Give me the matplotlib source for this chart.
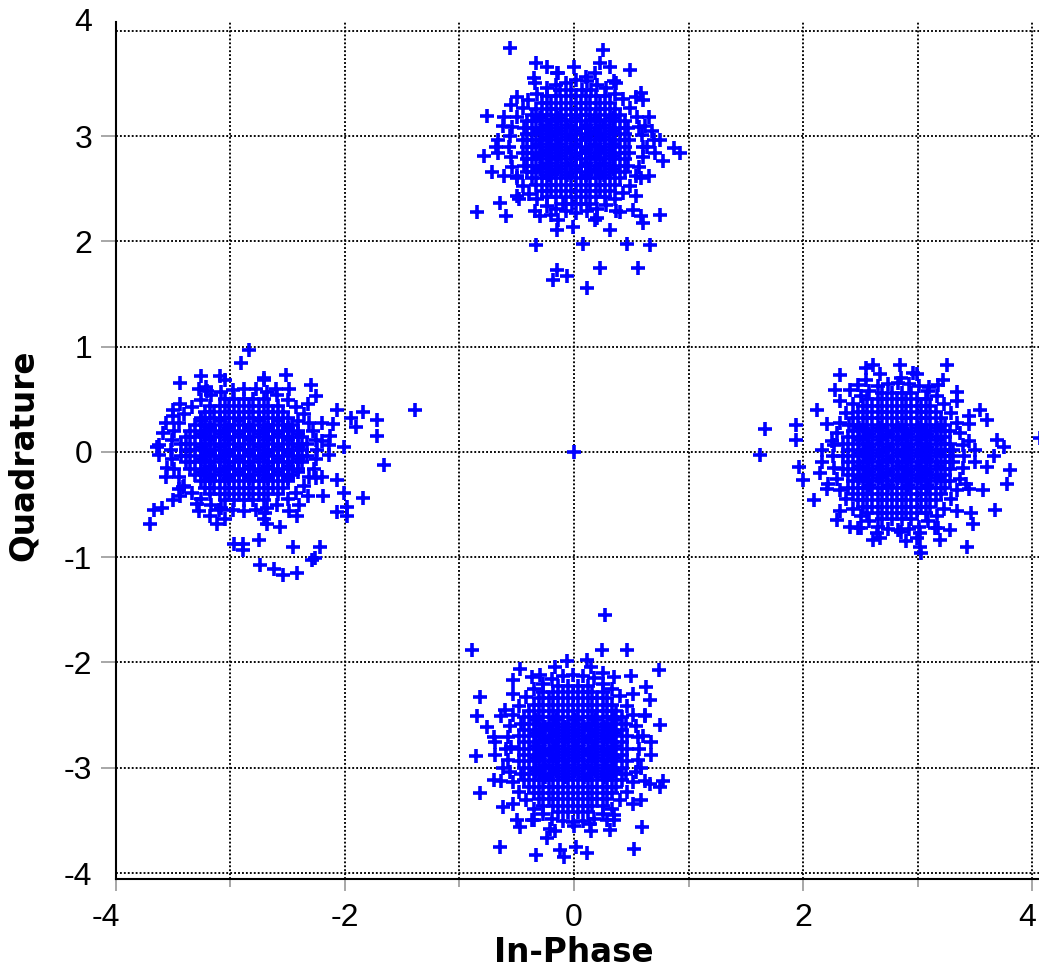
import numpy as np
import matplotlib.pyplot as plt
from matplotlib.ticker import FixedLocator
from matplotlib.transforms import ScaledTranslation

# received symbols (in-phase, quadrature)
top_core = [
    (-0.12, 3.44), (-0.03, 3.44), (0.07, 3.44), (0.15, 3.44),
    (-0.24, 3.38), (-0.16, 3.38), (-0.07, 3.38), (0.02, 3.38), (0.10, 3.38), (0.19, 3.38), (0.27, 3.38),
    (-0.28, 3.32), (-0.20, 3.32), (-0.11, 3.32), (-0.03, 3.32), (0.06, 3.32), (0.14, 3.32), (0.23, 3.32), (0.31, 3.32),
    (-0.33, 3.26), (-0.24, 3.26), (-0.16, 3.26), (-0.07, 3.26), (0.02, 3.26), (0.10, 3.26), (0.19, 3.26), (0.27, 3.26), (0.36, 3.26),
    (-0.37, 3.20), (-0.28, 3.20), (-0.20, 3.20), (-0.11, 3.20), (-0.03, 3.20), (0.06, 3.20), (0.14, 3.20), (0.23, 3.20), (0.31, 3.20), (0.40, 3.20),
    (-0.41, 3.14), (-0.33, 3.14), (-0.24, 3.14), (-0.16, 3.14), (-0.07, 3.14), (0.02, 3.14), (0.10, 3.14), (0.19, 3.14), (0.27, 3.14), (0.36, 3.14), (0.44, 3.14),
    (-0.44, 3.08), (-0.37, 3.08), (-0.28, 3.08), (-0.20, 3.08), (-0.11, 3.08), (-0.03, 3.08), (0.06, 3.08), (0.14, 3.08), (0.23, 3.08), (0.31, 3.08), (0.40, 3.08), (0.47, 3.08),
    (-0.41, 3.02), (-0.33, 3.02), (-0.24, 3.02), (-0.16, 3.02), (-0.07, 3.02), (0.02, 3.02), (0.10, 3.02), (0.19, 3.02), (0.27, 3.02), (0.36, 3.02), (0.44, 3.02),
    (-0.45, 2.96), (-0.37, 2.96), (-0.28, 2.96), (-0.20, 2.96), (-0.11, 2.96), (-0.03, 2.96), (0.06, 2.96), (0.14, 2.96), (0.23, 2.96), (0.31, 2.96), (0.40, 2.96), (0.48, 2.96),
    (-0.41, 2.90), (-0.33, 2.90), (-0.24, 2.90), (-0.16, 2.90), (-0.07, 2.90), (0.02, 2.90), (0.10, 2.90), (0.19, 2.90), (0.27, 2.90), (0.36, 2.90), (0.44, 2.90),
    (-0.45, 2.84), (-0.37, 2.84), (-0.28, 2.84), (-0.20, 2.84), (-0.11, 2.84), (-0.03, 2.84), (0.06, 2.84), (0.14, 2.84), (0.23, 2.84), (0.31, 2.84), (0.40, 2.84), (0.48, 2.84),
    (-0.41, 2.78), (-0.33, 2.78), (-0.24, 2.78), (-0.16, 2.78), (-0.07, 2.78), (0.02, 2.78), (0.10, 2.78), (0.19, 2.78), (0.27, 2.78), (0.36, 2.78), (0.44, 2.78),
    (-0.44, 2.72), (-0.37, 2.72), (-0.28, 2.72), (-0.20, 2.72), (-0.11, 2.72), (-0.03, 2.72), (0.06, 2.72), (0.14, 2.72), (0.23, 2.72), (0.31, 2.72), (0.40, 2.72), (0.47, 2.72),
    (-0.41, 2.66), (-0.33, 2.66), (-0.24, 2.66), (-0.16, 2.66), (-0.07, 2.66), (0.02, 2.66), (0.10, 2.66), (0.19, 2.66), (0.27, 2.66), (0.36, 2.66), (0.44, 2.66),
    (-0.37, 2.60), (-0.28, 2.60), (-0.20, 2.60), (-0.11, 2.60), (-0.03, 2.60), (0.06, 2.60), (0.14, 2.60), (0.23, 2.60), (0.31, 2.60), (0.40, 2.60),
    (-0.33, 2.54), (-0.24, 2.54), (-0.16, 2.54), (-0.07, 2.54), (0.02, 2.54), (0.10, 2.54), (0.19, 2.54), (0.27, 2.54), (0.36, 2.54),
    (-0.28, 2.48), (-0.20, 2.48), (-0.11, 2.48), (-0.03, 2.48), (0.06, 2.48), (0.14, 2.48), (0.23, 2.48), (0.31, 2.48),
    (-0.24, 2.42), (-0.16, 2.42), (-0.07, 2.42), (0.02, 2.42), (0.10, 2.42), (0.19, 2.42), (0.27, 2.42),
    (-0.10, 2.36), (-0.02, 2.36), (0.06, 2.36), (0.14, 2.36),
]
top_inner = [
    (-0.30, 3.17), (-0.14, 3.17), (0.02, 3.17), (0.18, 3.17), (0.34, 3.17),
    (-0.22, 3.11), (-0.06, 3.11), (0.10, 3.11), (0.26, 3.11),
    (-0.30, 3.05), (-0.14, 3.05), (0.02, 3.05), (0.18, 3.05), (0.34, 3.05),
    (-0.22, 2.99), (-0.06, 2.99), (0.10, 2.99), (0.26, 2.99),
    (-0.30, 2.93), (-0.14, 2.93), (0.02, 2.93), (0.18, 2.93), (0.34, 2.93),
    (-0.22, 2.87), (-0.06, 2.87), (0.10, 2.87), (0.26, 2.87),
    (-0.30, 2.81), (-0.14, 2.81), (0.02, 2.81), (0.18, 2.81), (0.34, 2.81),
    (-0.22, 2.75), (-0.06, 2.75), (0.10, 2.75), (0.26, 2.75),
    (-0.30, 2.69), (-0.14, 2.69), (0.02, 2.69), (0.18, 2.69), (0.34, 2.69),
    (-0.22, 2.63), (-0.06, 2.63), (0.10, 2.63), (0.26, 2.63),
]
top_edge = [
    (0.60, 2.90), (0.59, 3.01), (0.57, 3.09), (0.55, 3.18), (0.49, 3.27), (0.43, 3.35), (0.36, 3.40), (0.28, 3.46), (0.20, 3.49), (0.11, 3.52),
    (0.02, 3.53), (-0.07, 3.51), (-0.16, 3.49), (-0.24, 3.46), (-0.32, 3.40), (-0.40, 3.34), (-0.45, 3.27), (-0.50, 3.18), (-0.54, 3.09), (-0.56, 3.00),
    (-0.57, 2.90), (-0.55, 2.80), (-0.54, 2.71), (-0.50, 2.62), (-0.45, 2.53), (-0.39, 2.45), (-0.32, 2.40), (-0.24, 2.34), (-0.16, 2.31), (-0.07, 2.29),
    (0.02, 2.27), (0.11, 2.29), (0.20, 2.31), (0.28, 2.35), (0.36, 2.40), (0.43, 2.46), (0.49, 2.53), (0.54, 2.62), (0.57, 2.71), (0.60, 2.80),
    (0.70, 2.96), (0.65, 3.18), (0.54, 3.37), (0.37, 3.51), (0.18, 3.60), (-0.14, 3.60), (-0.34, 3.51), (-0.50, 3.37), (-0.61, 3.18), (-0.66, 2.96),
    (-0.66, 2.84), (-0.61, 2.62), (-0.50, 2.43), (-0.34, 2.29), (-0.14, 2.20), (0.18, 2.20), (0.37, 2.29), (0.54, 2.43), (0.65, 2.62), (0.71, 2.84),
]
top_outer = [
    (-0.56, 3.84), (0.25, 3.82), (-0.33, 3.70), (-0.24, 3.66), (0.00, 3.66), (-0.15, 3.60),
    (0.23, 3.70), (0.31, 3.66), (0.49, 3.63), (0.58, 3.41), (0.60, 3.34), (-0.76, 3.19),
    (-0.79, 2.81), (-0.72, 2.66), (0.92, 2.84), (0.87, 2.89), (0.78, 2.76), (0.75, 2.96),
    (0.64, 2.90), (-0.85, 2.28), (-0.65, 2.37), (-0.59, 2.24), (-0.30, 2.24), (-0.15, 2.11),
    (-0.01, 2.14), (0.08, 1.98), (0.31, 2.11), (0.51, 2.30), (0.60, 2.18), (-0.33, 1.97),
    (0.46, 1.98), (0.66, 1.97), (0.58, 2.24), (0.75, 2.25), (-0.15, 1.73), (-0.18, 1.63),
    (-0.06, 1.67), (0.11, 1.56), (0.23, 1.75), (0.56, 1.75), (-0.62, 3.10), (-0.55, 3.30),
    (-0.50, 2.60), (0.62, 3.10), (0.58, 2.60), (-0.35, 3.55), (0.35, 3.52), (0.10, 3.56),
    (-0.20, 2.25), (0.20, 2.22), (0.40, 2.28), (-0.48, 2.40), (0.68, 3.05), (-0.68, 2.90),
]

bottom_core = [
    (-0.14, -2.22), (-0.05, -2.22), (0.03, -2.22), (0.12, -2.22),
    (-0.27, -2.28), (-0.18, -2.28), (-0.10, -2.28), (-0.01, -2.28), (0.08, -2.28), (0.16, -2.28), (0.25, -2.28),
    (-0.31, -2.34), (-0.22, -2.34), (-0.14, -2.34), (-0.05, -2.34), (0.03, -2.34), (0.12, -2.34), (0.20, -2.34), (0.29, -2.34),
    (-0.35, -2.40), (-0.27, -2.40), (-0.18, -2.40), (-0.10, -2.40), (-0.01, -2.40), (0.08, -2.40), (0.16, -2.40), (0.25, -2.40), (0.33, -2.40),
    (-0.39, -2.46), (-0.31, -2.46), (-0.22, -2.46), (-0.14, -2.46), (-0.05, -2.46), (0.03, -2.46), (0.12, -2.46), (0.20, -2.46), (0.29, -2.46), (0.37, -2.46),
    (-0.44, -2.52), (-0.35, -2.52), (-0.27, -2.52), (-0.18, -2.52), (-0.10, -2.52), (-0.01, -2.52), (0.08, -2.52), (0.16, -2.52), (0.25, -2.52), (0.33, -2.52), (0.42, -2.52),
    (-0.46, -2.58), (-0.39, -2.58), (-0.31, -2.58), (-0.22, -2.58), (-0.14, -2.58), (-0.05, -2.58), (0.03, -2.58), (0.12, -2.58), (0.20, -2.58), (0.29, -2.58), (0.37, -2.58), (0.45, -2.58),
    (-0.44, -2.64), (-0.35, -2.64), (-0.27, -2.64), (-0.18, -2.64), (-0.10, -2.64), (-0.01, -2.64), (0.08, -2.64), (0.16, -2.64), (0.25, -2.64), (0.33, -2.64), (0.42, -2.64),
    (-0.48, -2.70), (-0.39, -2.70), (-0.31, -2.70), (-0.22, -2.70), (-0.14, -2.70), (-0.05, -2.70), (0.03, -2.70), (0.12, -2.70), (0.20, -2.70), (0.29, -2.70), (0.37, -2.70), (0.46, -2.70),
    (-0.44, -2.76), (-0.35, -2.76), (-0.27, -2.76), (-0.18, -2.76), (-0.10, -2.76), (-0.01, -2.76), (0.08, -2.76), (0.16, -2.76), (0.25, -2.76), (0.33, -2.76), (0.42, -2.76),
    (-0.48, -2.82), (-0.39, -2.82), (-0.31, -2.82), (-0.22, -2.82), (-0.14, -2.82), (-0.05, -2.82), (0.03, -2.82), (0.12, -2.82), (0.20, -2.82), (0.29, -2.82), (0.37, -2.82), (0.46, -2.82),
    (-0.44, -2.88), (-0.35, -2.88), (-0.27, -2.88), (-0.18, -2.88), (-0.10, -2.88), (-0.01, -2.88), (0.08, -2.88), (0.16, -2.88), (0.25, -2.88), (0.33, -2.88), (0.42, -2.88),
    (-0.48, -2.94), (-0.39, -2.94), (-0.31, -2.94), (-0.22, -2.94), (-0.14, -2.94), (-0.05, -2.94), (0.03, -2.94), (0.12, -2.94), (0.20, -2.94), (0.29, -2.94), (0.37, -2.94), (0.46, -2.94),
    (-0.44, -3.00), (-0.35, -3.00), (-0.27, -3.00), (-0.18, -3.00), (-0.10, -3.00), (-0.01, -3.00), (0.08, -3.00), (0.16, -3.00), (0.25, -3.00), (0.33, -3.00), (0.42, -3.00),
    (-0.46, -3.06), (-0.39, -3.06), (-0.31, -3.06), (-0.22, -3.06), (-0.14, -3.06), (-0.05, -3.06), (0.03, -3.06), (0.12, -3.06), (0.20, -3.06), (0.29, -3.06), (0.37, -3.06), (0.45, -3.06),
    (-0.44, -3.12), (-0.35, -3.12), (-0.27, -3.12), (-0.18, -3.12), (-0.10, -3.12), (-0.01, -3.12), (0.08, -3.12), (0.16, -3.12), (0.25, -3.12), (0.33, -3.12), (0.42, -3.12),
    (-0.39, -3.18), (-0.31, -3.18), (-0.22, -3.18), (-0.14, -3.18), (-0.05, -3.18), (0.03, -3.18), (0.12, -3.18), (0.20, -3.18), (0.29, -3.18), (0.37, -3.18),
    (-0.35, -3.24), (-0.27, -3.24), (-0.18, -3.24), (-0.10, -3.24), (-0.01, -3.24), (0.08, -3.24), (0.16, -3.24), (0.25, -3.24), (0.33, -3.24),
    (-0.31, -3.30), (-0.22, -3.30), (-0.14, -3.30), (-0.05, -3.30), (0.03, -3.30), (0.12, -3.30), (0.20, -3.30), (0.29, -3.30),
    (-0.27, -3.36), (-0.18, -3.36), (-0.10, -3.36), (-0.01, -3.36), (0.08, -3.36), (0.16, -3.36), (0.25, -3.36),
    (-0.14, -3.42), (-0.05, -3.42), (0.03, -3.42), (0.12, -3.42),
]
bottom_inner = [
    (-0.33, -2.55), (-0.16, -2.55), (0.01, -2.55), (0.18, -2.55), (0.35, -2.55),
    (-0.25, -2.61), (-0.08, -2.61), (0.09, -2.61), (0.26, -2.61),
    (-0.33, -2.67), (-0.16, -2.67), (0.01, -2.67), (0.18, -2.67), (0.35, -2.67),
    (-0.25, -2.73), (-0.08, -2.73), (0.09, -2.73), (0.26, -2.73),
    (-0.33, -2.79), (-0.16, -2.79), (0.01, -2.79), (0.18, -2.79), (0.35, -2.79),
    (-0.25, -2.85), (-0.08, -2.85), (0.09, -2.85), (0.26, -2.85),
    (-0.33, -2.91), (-0.16, -2.91), (0.01, -2.91), (0.18, -2.91), (0.35, -2.91),
    (-0.25, -2.97), (-0.08, -2.97), (0.09, -2.97), (0.26, -2.97),
    (-0.33, -3.03), (-0.16, -3.03), (0.01, -3.03), (0.18, -3.03), (0.35, -3.03),
    (-0.25, -3.09), (-0.08, -3.09), (0.09, -3.09), (0.26, -3.09),
]
bottom_edge = [
    (0.57, -2.82), (0.56, -2.71), (0.54, -2.60), (0.51, -2.50), (0.46, -2.41), (0.40, -2.32), (0.33, -2.25), (0.25, -2.20), (0.17, -2.15), (0.08, -2.13),
    (-0.01, -2.12), (-0.10, -2.13), (-0.19, -2.16), (-0.27, -2.20), (-0.35, -2.25), (-0.42, -2.33), (-0.48, -2.41), (-0.53, -2.50), (-0.56, -2.60), (-0.58, -2.71),
    (-0.59, -2.82), (-0.58, -2.93), (-0.56, -3.04), (-0.53, -3.14), (-0.48, -3.23), (-0.42, -3.31), (-0.35, -3.39), (-0.27, -3.44), (-0.19, -3.49), (-0.10, -3.51),
    (-0.01, -3.52), (0.08, -3.51), (0.17, -3.49), (0.25, -3.44), (0.33, -3.39), (0.40, -3.31), (0.46, -3.23), (0.51, -3.14), (0.54, -3.04), (0.56, -2.93),
    (0.67, -2.76), (0.62, -2.51), (0.51, -2.30), (0.35, -2.14), (0.15, -2.04), (-0.17, -2.04), (-0.37, -2.14), (-0.53, -2.30), (-0.64, -2.51), (-0.69, -2.76),
    (-0.69, -2.88), (-0.64, -3.13), (-0.53, -3.34), (-0.37, -3.50), (-0.17, -3.60), (0.15, -3.60), (0.35, -3.50), (0.51, -3.34), (0.62, -3.13), (0.67, -2.88),
]
bottom_outer = [
    (0.27, -1.55), (-0.89, -1.88), (0.24, -1.88), (0.46, -1.88), (0.74, -2.07), (-0.47, -2.06),
    (-0.53, -2.17), (-0.06, -1.99), (0.11, -1.98), (-0.82, -2.33), (-0.85, -2.51), (-0.76, -2.61),
    (-0.70, -2.71), (-0.86, -2.89), (-0.82, -3.24), (-0.70, -3.12), (-0.62, -3.37), (-0.50, -3.50),
    (-0.47, -3.56), (-0.65, -3.75), (-0.33, -3.83), (-0.24, -3.67), (-0.12, -3.78), (-0.09, -3.85),
    (0.02, -3.75), (0.11, -3.81), (0.52, -3.77), (0.59, -3.56), (0.58, -3.31), (0.78, -3.13),
    (0.75, -3.18), (0.66, -3.15), (0.75, -2.59), (0.63, -2.23), (0.50, -2.13), (0.66, -2.36),
    (0.29, -3.50), (0.31, -3.59), (0.14, -3.53), (-0.21, -3.58), (-0.60, -2.45), (-0.62, -3.00),
    (0.60, -2.70), (0.58, -3.00), (-0.30, -2.12), (0.25, -2.10), (-0.35, -3.50), (0.35, -3.45),
    (0.00, -3.55), (-0.55, -2.80), (0.62, -2.50),
]

left_core = [
    (-3.05, 0.50), (-2.97, 0.50), (-2.88, 0.50), (-2.80, 0.50), (-2.71, 0.50),
    (-3.18, 0.44), (-3.09, 0.44), (-3.01, 0.44), (-2.92, 0.44), (-2.84, 0.44), (-2.75, 0.44), (-2.67, 0.44), (-2.58, 0.44),
    (-3.22, 0.38), (-3.14, 0.38), (-3.05, 0.38), (-2.97, 0.38), (-2.88, 0.38), (-2.80, 0.38), (-2.71, 0.38), (-2.63, 0.38), (-2.54, 0.38),
    (-3.26, 0.32), (-3.18, 0.32), (-3.09, 0.32), (-3.01, 0.32), (-2.92, 0.32), (-2.84, 0.32), (-2.75, 0.32), (-2.67, 0.32), (-2.58, 0.32), (-2.50, 0.32),
    (-3.31, 0.26), (-3.22, 0.26), (-3.14, 0.26), (-3.05, 0.26), (-2.97, 0.26), (-2.88, 0.26), (-2.80, 0.26), (-2.71, 0.26), (-2.63, 0.26), (-2.54, 0.26), (-2.46, 0.26),
    (-3.35, 0.20), (-3.26, 0.20), (-3.18, 0.20), (-3.09, 0.20), (-3.01, 0.20), (-2.92, 0.20), (-2.84, 0.20), (-2.75, 0.20), (-2.67, 0.20), (-2.58, 0.20), (-2.50, 0.20), (-2.41, 0.20),
    (-3.39, 0.14), (-3.31, 0.14), (-3.22, 0.14), (-3.14, 0.14), (-3.05, 0.14), (-2.97, 0.14), (-2.88, 0.14), (-2.80, 0.14), (-2.71, 0.14), (-2.63, 0.14), (-2.54, 0.14), (-2.46, 0.14), (-2.37, 0.14),
    (-3.43, 0.08), (-3.35, 0.08), (-3.26, 0.08), (-3.18, 0.08), (-3.09, 0.08), (-3.01, 0.08), (-2.92, 0.08), (-2.84, 0.08), (-2.75, 0.08), (-2.67, 0.08), (-2.58, 0.08), (-2.50, 0.08), (-2.41, 0.08), (-2.33, 0.08),
    (-3.39, 0.02), (-3.31, 0.02), (-3.22, 0.02), (-3.14, 0.02), (-3.05, 0.02), (-2.97, 0.02), (-2.88, 0.02), (-2.80, 0.02), (-2.71, 0.02), (-2.63, 0.02), (-2.54, 0.02), (-2.46, 0.02), (-2.37, 0.02),
    (-3.43, -0.04), (-3.35, -0.04), (-3.26, -0.04), (-3.18, -0.04), (-3.09, -0.04), (-3.01, -0.04), (-2.92, -0.04), (-2.84, -0.04), (-2.75, -0.04), (-2.67, -0.04), (-2.58, -0.04), (-2.50, -0.04), (-2.41, -0.04), (-2.33, -0.04),
    (-3.39, -0.10), (-3.31, -0.10), (-3.22, -0.10), (-3.14, -0.10), (-3.05, -0.10), (-2.97, -0.10), (-2.88, -0.10), (-2.80, -0.10), (-2.71, -0.10), (-2.63, -0.10), (-2.54, -0.10), (-2.46, -0.10), (-2.37, -0.10),
    (-3.35, -0.16), (-3.26, -0.16), (-3.18, -0.16), (-3.09, -0.16), (-3.01, -0.16), (-2.92, -0.16), (-2.84, -0.16), (-2.75, -0.16), (-2.67, -0.16), (-2.58, -0.16), (-2.50, -0.16), (-2.41, -0.16),
    (-3.31, -0.22), (-3.22, -0.22), (-3.14, -0.22), (-3.05, -0.22), (-2.97, -0.22), (-2.88, -0.22), (-2.80, -0.22), (-2.71, -0.22), (-2.63, -0.22), (-2.54, -0.22), (-2.46, -0.22),
    (-3.26, -0.28), (-3.18, -0.28), (-3.09, -0.28), (-3.01, -0.28), (-2.92, -0.28), (-2.84, -0.28), (-2.75, -0.28), (-2.67, -0.28), (-2.58, -0.28), (-2.50, -0.28),
    (-3.22, -0.34), (-3.14, -0.34), (-3.05, -0.34), (-2.97, -0.34), (-2.88, -0.34), (-2.80, -0.34), (-2.71, -0.34), (-2.63, -0.34), (-2.54, -0.34),
    (-3.18, -0.40), (-3.09, -0.40), (-3.01, -0.40), (-2.92, -0.40), (-2.84, -0.40), (-2.75, -0.40), (-2.67, -0.40), (-2.58, -0.40),
    (-3.05, -0.46), (-2.97, -0.46), (-2.88, -0.46), (-2.80, -0.46), (-2.71, -0.46),
]
left_inner = [
    (-3.26, 0.29), (-3.09, 0.29), (-2.92, 0.29), (-2.75, 0.29), (-2.58, 0.29), (-2.41, 0.29),
    (-3.18, 0.23), (-3.01, 0.23), (-2.84, 0.23), (-2.67, 0.23), (-2.50, 0.23),
    (-3.26, 0.17), (-3.09, 0.17), (-2.92, 0.17), (-2.75, 0.17), (-2.58, 0.17), (-2.41, 0.17),
    (-3.18, 0.11), (-3.01, 0.11), (-2.84, 0.11), (-2.67, 0.11), (-2.50, 0.11),
    (-3.26, 0.05), (-3.09, 0.05), (-2.92, 0.05), (-2.75, 0.05), (-2.58, 0.05), (-2.41, 0.05),
    (-3.18, -0.01), (-3.01, -0.01), (-2.84, -0.01), (-2.67, -0.01), (-2.50, -0.01),
    (-3.26, -0.07), (-3.09, -0.07), (-2.92, -0.07), (-2.75, -0.07), (-2.58, -0.07), (-2.41, -0.07),
    (-3.18, -0.13), (-3.01, -0.13), (-2.84, -0.13), (-2.67, -0.13), (-2.50, -0.13),
    (-3.26, -0.19), (-3.09, -0.19), (-2.92, -0.19), (-2.75, -0.19), (-2.58, -0.19), (-2.41, -0.19),
    (-3.18, -0.25), (-3.01, -0.25), (-2.84, -0.25), (-2.67, -0.25), (-2.50, -0.25),
]
left_edge = [
    (-2.24, 0.02), (-2.25, 0.11), (-2.28, 0.20), (-2.31, 0.28), (-2.36, 0.36), (-2.43, 0.43), (-2.50, 0.49), (-2.59, 0.54), (-2.68, 0.57), (-2.78, 0.60),
    (-2.88, 0.60), (-2.98, 0.59), (-3.08, 0.57), (-3.17, 0.54), (-3.26, 0.49), (-3.33, 0.43), (-3.40, 0.36), (-3.45, 0.28), (-3.49, 0.20), (-3.51, 0.11),
    (-3.52, 0.02), (-3.51, -0.07), (-3.49, -0.16), (-3.45, -0.24), (-3.40, -0.32), (-3.33, -0.39), (-3.26, -0.45), (-3.17, -0.50), (-3.08, -0.53), (-2.98, -0.55),
    (-2.88, -0.56), (-2.78, -0.55), (-2.68, -0.53), (-2.59, -0.50), (-2.50, -0.45), (-2.43, -0.39), (-2.36, -0.32), (-2.31, -0.24), (-2.27, -0.16), (-2.25, -0.07),
    (-2.14, 0.07), (-2.20, 0.28), (-2.32, 0.46), (-2.49, 0.60), (-2.71, 0.68), (-3.05, 0.68), (-3.27, 0.60), (-3.44, 0.46), (-3.56, 0.28), (-3.62, 0.07),
    (-3.62, -0.03), (-3.56, -0.24), (-3.44, -0.42), (-3.27, -0.56), (-3.05, -0.64), (-2.71, -0.64), (-2.49, -0.56), (-2.32, -0.42), (-2.20, -0.24), (-2.14, -0.03),
]
left_outer = [
    (-2.84, 0.97), (-2.91, 0.85), (-3.44, 0.66), (-3.26, 0.72), (-3.09, 0.72), (-3.21, 0.62),
    (-2.71, 0.70), (-2.51, 0.73), (-2.30, 0.64), (-2.25, 0.53), (-1.39, 0.40), (-1.84, 0.38),
    (-1.72, 0.30), (-1.72, 0.15), (-2.07, 0.40), (-1.95, 0.32), (-1.90, 0.24), (-1.66, -0.12),
    (-1.84, -0.44), (-1.98, -0.52), (-2.07, -0.57), (-1.98, -0.61), (-3.64, 0.05), (-3.50, 0.34),
    (-3.59, 0.18), (-3.70, -0.68), (-3.67, -0.55), (-3.60, -0.53), (-3.50, -0.46), (-3.41, -0.33),
    (-3.29, -0.49), (-3.12, -0.68), (-3.18, -0.61), (-2.97, -0.87), (-2.89, -0.87), (-2.89, -0.93),
    (-2.75, -0.84), (-2.74, -1.07), (-2.62, -1.11), (-2.54, -1.17), (-2.42, -1.15), (-2.45, -0.90),
    (-2.22, -0.90), (-2.29, -1.03), (-2.26, -1.01), (-2.57, -0.71), (-2.42, -0.61), (-2.68, -0.68),
    (-2.01, 0.05), (-2.13, 0.15), (-2.10, 0.27), (-2.07, -0.27), (-2.01, -0.39), (-2.19, -0.42),
    (-3.50, 0.40), (-3.55, -0.15), (-2.20, 0.10), (-2.25, -0.25), (-3.20, 0.58), (-2.60, 0.60),
    (-3.10, -0.55), (-2.70, -0.58), (-2.40, -0.50), (-3.45, -0.35),
]

right_core = [
    (2.69, 0.56), (2.77, 0.56), (2.86, 0.56), (2.94, 0.56),
    (2.56, 0.50), (2.65, 0.50), (2.73, 0.50), (2.82, 0.50), (2.90, 0.50), (2.99, 0.50), (3.07, 0.50),
    (2.52, 0.44), (2.60, 0.44), (2.69, 0.44), (2.77, 0.44), (2.86, 0.44), (2.94, 0.44), (3.03, 0.44), (3.11, 0.44),
    (2.48, 0.38), (2.56, 0.38), (2.65, 0.38), (2.73, 0.38), (2.82, 0.38), (2.90, 0.38), (2.99, 0.38), (3.07, 0.38), (3.16, 0.38),
    (2.43, 0.32), (2.52, 0.32), (2.60, 0.32), (2.69, 0.32), (2.77, 0.32), (2.86, 0.32), (2.94, 0.32), (3.03, 0.32), (3.11, 0.32), (3.20, 0.32),
    (2.40, 0.26), (2.48, 0.26), (2.56, 0.26), (2.65, 0.26), (2.73, 0.26), (2.82, 0.26), (2.90, 0.26), (2.99, 0.26), (3.07, 0.26), (3.16, 0.26), (3.24, 0.26),
    (2.43, 0.20), (2.52, 0.20), (2.60, 0.20), (2.69, 0.20), (2.77, 0.20), (2.86, 0.20), (2.94, 0.20), (3.03, 0.20), (3.11, 0.20), (3.20, 0.20), (3.28, 0.20),
    (2.39, 0.14), (2.48, 0.14), (2.56, 0.14), (2.65, 0.14), (2.73, 0.14), (2.82, 0.14), (2.90, 0.14), (2.99, 0.14), (3.07, 0.14), (3.16, 0.14), (3.24, 0.14),
    (2.35, 0.08), (2.43, 0.08), (2.52, 0.08), (2.60, 0.08), (2.69, 0.08), (2.77, 0.08), (2.86, 0.08), (2.94, 0.08), (3.03, 0.08), (3.11, 0.08), (3.20, 0.08), (3.28, 0.08),
    (2.39, 0.02), (2.48, 0.02), (2.56, 0.02), (2.65, 0.02), (2.73, 0.02), (2.82, 0.02), (2.90, 0.02), (2.99, 0.02), (3.07, 0.02), (3.16, 0.02), (3.24, 0.02), (3.31, 0.02),
    (2.35, -0.04), (2.43, -0.04), (2.52, -0.04), (2.60, -0.04), (2.69, -0.04), (2.77, -0.04), (2.86, -0.04), (2.94, -0.04), (3.03, -0.04), (3.11, -0.04), (3.20, -0.04), (3.28, -0.04),
    (2.39, -0.10), (2.48, -0.10), (2.56, -0.10), (2.65, -0.10), (2.73, -0.10), (2.82, -0.10), (2.90, -0.10), (2.99, -0.10), (3.07, -0.10), (3.16, -0.10), (3.24, -0.10), (3.31, -0.10),
    (2.35, -0.16), (2.43, -0.16), (2.52, -0.16), (2.60, -0.16), (2.69, -0.16), (2.77, -0.16), (2.86, -0.16), (2.94, -0.16), (3.03, -0.16), (3.11, -0.16), (3.20, -0.16), (3.28, -0.16),
    (2.39, -0.22), (2.48, -0.22), (2.56, -0.22), (2.65, -0.22), (2.73, -0.22), (2.82, -0.22), (2.90, -0.22), (2.99, -0.22), (3.07, -0.22), (3.16, -0.22), (3.24, -0.22),
    (2.43, -0.28), (2.52, -0.28), (2.60, -0.28), (2.69, -0.28), (2.77, -0.28), (2.86, -0.28), (2.94, -0.28), (3.03, -0.28), (3.11, -0.28), (3.20, -0.28), (3.28, -0.28),
    (2.39, -0.34), (2.48, -0.34), (2.56, -0.34), (2.65, -0.34), (2.73, -0.34), (2.82, -0.34), (2.90, -0.34), (2.99, -0.34), (3.07, -0.34), (3.16, -0.34), (3.24, -0.34),
    (2.43, -0.40), (2.52, -0.40), (2.60, -0.40), (2.69, -0.40), (2.77, -0.40), (2.86, -0.40), (2.94, -0.40), (3.03, -0.40), (3.11, -0.40), (3.20, -0.40),
    (2.48, -0.46), (2.56, -0.46), (2.65, -0.46), (2.73, -0.46), (2.82, -0.46), (2.90, -0.46), (2.99, -0.46), (3.07, -0.46), (3.16, -0.46),
    (2.52, -0.52), (2.60, -0.52), (2.69, -0.52), (2.77, -0.52), (2.86, -0.52), (2.94, -0.52), (3.03, -0.52), (3.11, -0.52),
    (2.56, -0.58), (2.65, -0.58), (2.73, -0.58), (2.82, -0.58), (2.90, -0.58), (2.99, -0.58), (3.07, -0.58),
    (2.69, -0.64), (2.77, -0.64), (2.86, -0.64), (2.94, -0.64),
]
right_inner = [
    (2.49, 0.23), (2.66, 0.23), (2.83, 0.23), (3.00, 0.23), (3.17, 0.23),
    (2.57, 0.17), (2.74, 0.17), (2.91, 0.17), (3.08, 0.17),
    (2.49, 0.11), (2.66, 0.11), (2.83, 0.11), (3.00, 0.11), (3.17, 0.11),
    (2.57, 0.05), (2.74, 0.05), (2.91, 0.05), (3.08, 0.05),
    (2.49, -0.01), (2.66, -0.01), (2.83, -0.01), (3.00, -0.01), (3.17, -0.01),
    (2.57, -0.07), (2.74, -0.07), (2.91, -0.07), (3.08, -0.07),
    (2.49, -0.13), (2.66, -0.13), (2.83, -0.13), (3.00, -0.13), (3.17, -0.13),
    (2.57, -0.19), (2.74, -0.19), (2.91, -0.19), (3.08, -0.19),
    (2.49, -0.25), (2.66, -0.25), (2.83, -0.25), (3.00, -0.25), (3.17, -0.25),
    (2.57, -0.31), (2.74, -0.31), (2.91, -0.31), (3.08, -0.31),
]
right_edge = [
    (3.40, -0.04), (3.39, 0.07), (3.37, 0.18), (3.34, 0.28), (3.29, 0.37), (3.23, 0.46), (3.17, 0.53), (3.09, 0.58), (3.01, 0.63), (2.92, 0.65),
    (2.83, 0.66), (2.74, 0.65), (2.65, 0.63), (2.57, 0.58), (2.50, 0.53), (2.43, 0.46), (2.37, 0.37), (2.32, 0.28), (2.29, 0.18), (2.27, 0.07),
    (2.26, -0.04), (2.27, -0.15), (2.29, -0.26), (2.32, -0.36), (2.37, -0.45), (2.43, -0.54), (2.50, -0.61), (2.57, -0.66), (2.65, -0.71), (2.74, -0.73),
    (2.83, -0.74), (2.92, -0.73), (3.01, -0.71), (3.09, -0.66), (3.17, -0.61), (3.23, -0.54), (3.29, -0.45), (3.34, -0.36), (3.37, -0.26), (3.39, -0.15),
    (3.50, 0.02), (3.45, 0.27), (3.34, 0.48), (3.18, 0.64), (2.99, 0.74), (2.67, 0.74), (2.48, 0.64), (2.32, 0.48), (2.21, 0.27), (2.16, 0.02),
    (2.16, -0.10), (2.21, -0.35), (2.32, -0.56), (2.48, -0.72), (2.67, -0.82), (2.99, -0.82), (3.18, -0.72), (3.34, -0.56), (3.45, -0.35), (3.50, -0.10),
]
right_outer = [
    (1.67, 0.22), (1.62, -0.03), (1.94, 0.26), (1.94, 0.11), (1.96, -0.14), (2.00, -0.27),
    (2.09, -0.46), (2.12, 0.40), (2.15, -0.20), (2.32, 0.73), (2.28, 0.59), (2.41, 0.59),
    (2.55, 0.80), (2.61, 0.83), (2.84, 0.83), (2.96, 0.75), (3.25, 0.83), (3.22, 0.68),
    (3.34, 0.57), (3.54, 0.40), (3.45, 0.34), (3.60, 0.30), (3.69, 0.11), (3.75, 0.05),
    (3.66, -0.04), (3.80, -0.17), (3.78, -0.30), (3.60, -0.14), (3.57, -0.36), (3.67, -0.55),
    (3.46, -0.58), (3.48, -0.68), (3.43, -0.90), (3.19, -0.84), (3.28, -0.74), (3.02, -0.77),
    (3.02, -0.90), (3.03, -0.96), (2.61, -0.84), (2.64, -0.77), (2.41, -0.71), (2.29, -0.65),
    (4.07, 0.13), (2.25, 0.10), (2.22, -0.30), (3.45, 0.10), (3.42, -0.30), (2.55, 0.68),
    (3.10, 0.62), (2.50, -0.72), (3.15, -0.72), (2.85, -0.76), (2.85, 0.70), (2.90, -0.85),
]

centre_point = [(0.0, 0.0)]

x_major = [-4, -2, 0, 2, 4]
x_minor = [-3, -1, 1, 3]
y_major = [-4, -3, -2, -1, 0, 1, 2, 3, 4]

plt.rcParams["font.family"] = ["Liberation Sans", "DejaVu Sans"]
plt.rcParams["axes.unicode_minus"] = False

W, H = 1039, 973
fig = plt.figure(figsize=(W / 100, H / 100), dpi=100)
ax = fig.add_axes([115.7 / W, 94 / H, (W - 115.7) / W, 857 / H])
ax.set_xlim(-4, 4.057)
ax.set_ylim(-4.057, 4.085)

all_pts = np.array(top_core + top_inner + top_edge + top_outer
                   + bottom_core + bottom_inner + bottom_edge + bottom_outer
                   + left_core + left_inner + left_edge + left_outer
                   + right_core + right_inner + right_edge + right_outer + centre_point)
ax.plot(all_pts[:, 0], all_pts[:, 1], "+", color="#0000ff", ms=9.8, mew=2.6, zorder=3)

ax.xaxis.set_major_locator(FixedLocator(x_major))
ax.xaxis.set_minor_locator(FixedLocator(x_minor))
ax.yaxis.set_major_locator(FixedLocator(y_major))
ax.set_xticklabels([str(v) for v in x_major])
ax.set_yticklabels([str(v) for v in y_major])

ax.grid(True, which="both", color="black", linestyle=(0, (1, 1.1)), linewidth=1.35, zorder=0)
ax.set_axisbelow(True)

for s in ["top", "right"]:
    ax.spines[s].set_visible(False)
for s in ["left", "bottom"]:
    ax.spines[s].set_color("black")
    ax.spines[s].set_linewidth(1.5)
    ax.spines[s].set_zorder(4)

ax.tick_params(axis="x", which="major", length=8.6, width=1.1, color="#909090", pad=8.5, labelsize=23)
ax.tick_params(axis="x", which="minor", length=5.8, width=1.1, color="#909090")
ax.tick_params(axis="y", which="major", length=10.5, width=1.1, color="#909090", pad=6.5, labelsize=23)

# the -4 / 4 rows have no tick mark on the y axis
yt = ax.yaxis.get_major_ticks()
yt[0].tick1line.set_visible(False)
yt[-1].tick1line.set_visible(False)


# nudge the edge labels like in the reference
def nudge(label, dx_px, dy_px):
    label.set_transform(label.get_transform() + ScaledTranslation(dx_px / 100, dy_px / 100, fig.dpi_scale_trans))


nudge(yt[-1].label1, 0, 11)
xt = ax.xaxis.get_major_ticks()
nudge(xt[0].label1, -9.5, 0)
nudge(xt[-1].label1, -5, 0)

fig.text(573.5 / W, 1 - 962 / H, "In-Phase", ha="center", va="baseline",
         fontsize=23.5, fontweight="bold", family="DejaVu Sans")
fig.text(33 / W, 1 - 455 / H, "Quadrature", ha="center", va="baseline", rotation=90,
         rotation_mode="anchor", fontsize=23.5, fontweight="bold", family="DejaVu Sans")

fig.savefig("out.png", dpi=100)
